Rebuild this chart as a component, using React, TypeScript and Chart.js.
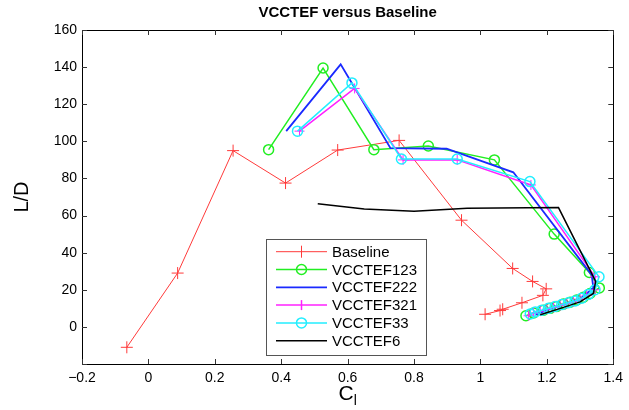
import React, { useEffect, useRef } from "react";
import { Chart, registerables } from "chart.js";
Chart.register(...registerables);

const seriesNames = ["Baseline", "VCCTEF123", "VCCTEF222", "VCCTEF321", "VCCTEF33", "VCCTEF6"];

const baselineX = [-0.065, 0.088, 0.255, 0.413, 0.57, 0.755, 0.943, 1.097, 1.157, 1.198, 1.188, 1.125, 1.067, 1.059, 1.014];
const baselineY = [-11, 29, 95, 77.5, 95.3, 100.5, 57.5, 31.5, 24.5, 20.5, 17, 13, 9.5, 8.8, 6.8];

const v123X = [0.362, 0.526, 0.679, 0.843, 1.042, 1.222, 1.328, 1.358, 1.33, 1.31, 1.29, 1.27, 1.25, 1.23, 1.21, 1.19, 1.16, 1.137];
const v123Y = [95.5, 139.5, 95.5, 97.5, 90, 50, 29.3, 21, 18, 16, 14.5, 13.3, 12.3, 11, 10, 9, 7.5, 6];

const v222X = [0.415, 0.579, 0.729, 0.898, 1.099, 1.335, 1.34, 1.3, 1.25, 1.2, 1.165];
const v222Y = [105.5, 141.5, 96.3, 96, 83.3, 28, 21, 15, 12, 9, 6.5];

const v321X = [0.455, 0.621, 0.767, 0.93, 1.152, 1.345, 1.345, 1.32, 1.3, 1.28, 1.26, 1.24, 1.22, 1.2, 1.18, 1.16, 1.145];
const v321Y = [105.5, 128.5, 90, 90, 76.5, 27, 20, 17, 15, 13.5, 12.5, 11.5, 10.5, 9.5, 8.5, 7.5, 6];

const v33X = [0.449, 0.613, 0.762, 0.93, 1.149, 1.357, 1.345, 1.325, 1.305, 1.285, 1.265, 1.245, 1.225, 1.205, 1.185, 1.165, 1.15];
const v33Y = [105.5, 131.5, 90.5, 90.5, 78.3, 27, 20, 17.5, 15.5, 14, 13, 12, 11, 10, 9, 8, 7];

const v6X = [0.51, 0.65, 0.8, 0.96, 1.235, 1.347, 1.34, 1.3, 1.25, 1.18];
const v6Y = [66.3, 63.5, 62.3, 64, 64.3, 24.5, 18, 13.5, 10.5, 6.5];

const FONT = "'Liberation Sans', Arial, Helvetica, sans-serif";

type Style = { color: string; marker: "cross" | "circle" | "none"; r: number; w: number };
const styles: Style[] = [
  { color: "#ff3a3a", marker: "cross", r: 6, w: 1 },
  { color: "#22ee22", marker: "circle", r: 5, w: 1.5 },
  { color: "#1a2aff", marker: "none", r: 0, w: 1.8 },
  { color: "#ff22ff", marker: "cross", r: 5, w: 1.5 },
  { color: "#22eeff", marker: "circle", r: 5, w: 1.5 },
  { color: "#000000", marker: "none", r: 0, w: 1.5 },
];

const mk = (xs: number[], ys: number[]) => xs.map((x, i) => ({ x, y: ys[i] }));

const fmt = (v: number) => {
  const n = Math.round(v * 10) / 10;
  if (n === 0) return "0";
  return (n < 0 ? "\u2212" : "") + String(Math.abs(n));
};

const decorPlugin = {
  id: "decor",
  afterDraw(chart: any) {
    const { ctx, chartArea } = chart;
    const { left, right, top, bottom } = chartArea;
    const xs = chart.scales.x;
    const ys = chart.scales.y;
    ctx.save();
    ctx.strokeStyle = "#000";
    ctx.lineWidth = 1;
    ctx.strokeRect(Math.round(left) + 0.5, Math.round(top) + 0.5, Math.round(right - left), Math.round(bottom - top));
    ctx.strokeStyle = "#333";
    const tl = 5;
    for (let v = -0.2; v <= 1.4001; v += 0.2) {
      const px = Math.round(xs.getPixelForValue(v)) + 0.5;
      ctx.beginPath();
      ctx.moveTo(px, bottom);
      ctx.lineTo(px, bottom - tl);
      ctx.moveTo(px, top);
      ctx.lineTo(px, top + tl);
      ctx.stroke();
    }
    for (let v = -20; v <= 160; v += 20) {
      const py = Math.round(ys.getPixelForValue(v)) + 0.5;
      ctx.beginPath();
      ctx.moveTo(left, py);
      ctx.lineTo(left + tl, py);
      ctx.moveTo(right, py);
      ctx.lineTo(right - tl, py);
      ctx.stroke();
    }
    ctx.fillStyle = "#000";
    ctx.font = `bold 15px ${FONT}`;
    ctx.textAlign = "center";
    ctx.textBaseline = "middle";
    ctx.fillText("VCCTEF versus Baseline", (left + right) / 2, 13);
    ctx.save();
    ctx.translate(22, (top + bottom) / 2);
    ctx.rotate(-Math.PI / 2);
    ctx.font = `20px ${FONT}`;
    ctx.fillText("L/D", 0, 0);
    ctx.restore();
    ctx.font = `21px ${FONT}`;
    ctx.textAlign = "left";
    const cw = ctx.measureText("C").width;
    ctx.font = `14px ${FONT}`;
    const lw = ctx.measureText("l").width;
    const startX = (left + right) / 2 - (cw + lw) / 2;
    ctx.font = `21px ${FONT}`;
    ctx.fillText("C", startX, 394);
    ctx.font = `14px ${FONT}`;
    ctx.fillText("l", startX + cw, 401);
    const bx = 266, by = 239, bw = 160, bh = 116;
    ctx.fillStyle = "#fff";
    ctx.fillRect(bx, by, bw, bh);
    ctx.strokeStyle = "#555";
    ctx.lineWidth = 1;
    ctx.strokeRect(bx + 0.5, by + 0.5, bw, bh);
    seriesNames.forEach((name, i) => {
      const st = styles[i];
      const y = 251.7 + i * 17.8;
      ctx.strokeStyle = st.color;
      ctx.lineWidth = st.w;
      ctx.beginPath();
      ctx.moveTo(276, y);
      ctx.lineTo(327, y);
      ctx.stroke();
      const cx = 301.5;
      if (st.marker === "circle") {
        ctx.beginPath();
        ctx.arc(cx, y, st.r, 0, Math.PI * 2);
        ctx.stroke();
      } else if (st.marker === "cross") {
        ctx.beginPath();
        ctx.moveTo(cx, y - st.r);
        ctx.lineTo(cx, y + st.r);
        ctx.stroke();
      }
      ctx.fillStyle = "#000";
      ctx.font = `15px ${FONT}`;
      ctx.textAlign = "left";
      ctx.textBaseline = "middle";
      ctx.fillText(name, 332, y + 1);
    });
    ctx.restore();
  },
};

export default function App() {
  const ref = useRef<HTMLCanvasElement>(null);
  useEffect(() => {
    const canvas = ref.current;
    if (!canvas) return;
    const all = [
      mk(baselineX, baselineY),
      mk(v123X, v123Y),
      mk(v222X, v222Y),
      mk(v321X, v321Y),
      mk(v33X, v33Y),
      mk(v6X, v6Y),
    ];
    const datasets = all.map((d, i) => {
      const st = styles[i];
      return {
        label: seriesNames[i],
        data: d,
        showLine: true,
        borderColor: st.color,
        borderWidth: st.w,
        backgroundColor: "transparent",
        pointStyle: st.marker === "none" ? "circle" : st.marker,
        pointRadius: st.r,
        pointBorderColor: st.color,
        pointBorderWidth: st.marker === "cross" ? 1 : 1.5,
        pointBackgroundColor: "transparent",
        pointHoverRadius: st.r,
        order: 6 - i,
      };
    });
    const chart = new Chart(canvas, {
      type: "scatter",
      data: { datasets } as any,
      options: {
        animation: false,
        responsive: false,
        maintainAspectRatio: false,
        layout: { padding: { top: 30, right: 13, left: 0, bottom: 0 } },
        plugins: { legend: { display: false }, title: { display: false }, tooltip: { enabled: false } },
        scales: {
          x: {
            type: "linear",
            min: -0.2,
            max: 1.4,
            ticks: {
              stepSize: 0.2,
              callback: (v: any) => fmt(Number(v)),
              font: { family: FONT, size: 14 },
              color: "#000",
              padding: 6,
              maxRotation: 0,
            },
            grid: { display: false, drawTicks: false },
            border: { display: false },
            afterFit: (s: any) => {
              s.height = 46;
            },
          },
          y: {
            type: "linear",
            min: -20,
            max: 160,
            ticks: {
              stepSize: 20,
              callback: (v: any) => (Number(v) === -20 ? "" : fmt(Number(v))),
              font: { family: FONT, size: 14 },
              color: "#000",
              padding: 5,
            },
            grid: { display: false, drawTicks: false },
            border: { display: false },
            afterFit: (s: any) => {
              s.width = 82;
            },
          },
        },
      } as any,
      plugins: [decorPlugin],
    });
    return () => chart.destroy();
  }, []);
  return (
    <div style={{ position: "fixed", left: 0, top: 0, width: 629, height: 410, background: "#fff" }}>
      <canvas ref={ref} width={629} height={410} style={{ width: 629, height: 410, display: "block" }} />
    </div>
  );
}
